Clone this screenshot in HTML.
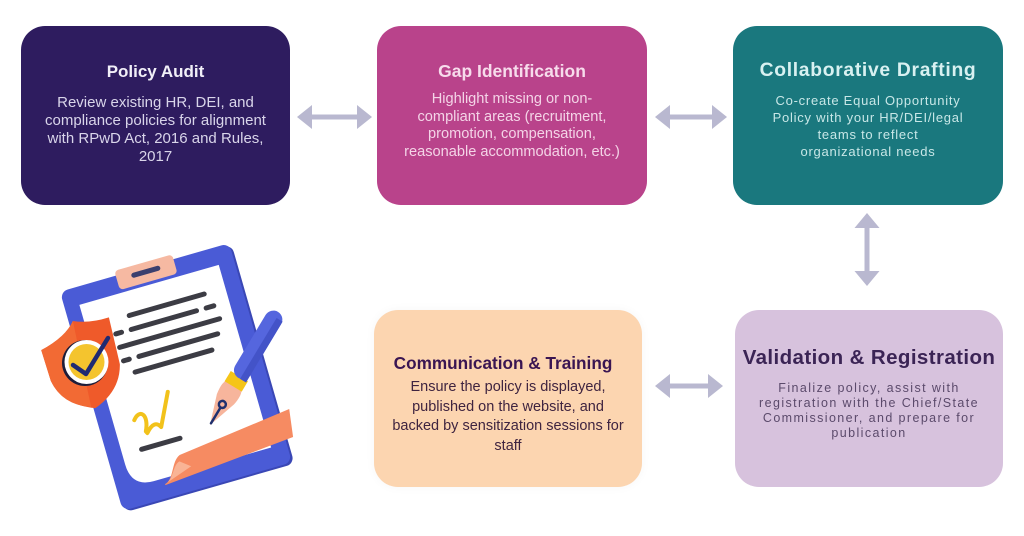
<!DOCTYPE html>
<html>
<head>
<meta charset="utf-8">
<style>
  html, body { margin:0; padding:0; }
  body { width:1024px; height:536px; overflow:hidden; background:#ffffff; position:relative;
         font-family:"Liberation Sans", Arial, sans-serif; }
  .box { position:absolute; border-radius:24px; }
  .t { position:absolute; left:0; right:0; text-align:center; white-space:nowrap; font-weight:bold; }
  .b { position:absolute; left:0; right:0; text-align:center; white-space:nowrap; }
  svg { position:absolute; left:0; top:0; }
</style>
</head>
<body>

<!-- Box 1 -->
<div class="box" style="left:21px;top:26px;width:269px;height:179px;background:#2e1c5f;">
  <div class="t" style="top:36px;line-height:20px;font-size:17px;color:#f1eff8;">Policy Audit</div>
  <div class="b" style="top:68px;line-height:18px;font-size:15px;color:#d9d5ea;">Review existing HR, DEI, and<br>compliance policies for alignment<br>with RPwD Act, 2016 and Rules,<br>2017</div>
</div>

<!-- Box 2 -->
<div class="box" style="left:377px;top:26px;width:270px;height:179px;background:#b9438b;">
  <div class="t" style="top:35px;line-height:20px;font-size:17.5px;color:#f7dcec;">Gap Identification</div>
  <div class="b" style="top:65px;line-height:17.6px;font-size:14.6px;color:#f4d4e7;">Highlight missing or non-<br>compliant areas (recruitment,<br>promotion, compensation,<br>reasonable accommodation, etc.)</div>
</div>

<!-- Box 3 -->
<div class="box" style="left:733px;top:26px;width:270px;height:179px;background:#1a787e;">
  <div class="t" style="top:34px;line-height:22px;font-size:19.3px;letter-spacing:0.7px;color:#d8f1f1;">Collaborative Drafting</div>
  <div class="b" style="top:65.5px;line-height:17px;font-size:13px;letter-spacing:0.75px;color:#c8e7e7;">Co-create Equal Opportunity<br>Policy with your HR/DEI/legal<br>teams to reflect<br>organizational needs</div>
</div>

<!-- Box 4 -->
<div class="box" style="left:374px;top:310px;width:268px;height:177px;background:#fcd5b0;box-shadow:0 0 10px rgba(0,0,0,0.04);">
  <div class="t" style="top:43px;line-height:20px;font-size:17.2px;color:#3a1552;left:-10px;">Communication &amp; Training</div>
  <div class="b" style="top:68px;line-height:19.7px;font-size:14.5px;color:#3f2440;">Ensure the policy is displayed,<br>published on the website, and<br>backed by sensitization sessions for<br>staff</div>
</div>

<!-- Box 5 -->
<div class="box" style="left:735px;top:310px;width:268px;height:177px;background:#d7c2dd;">
  <div class="t" style="top:36px;line-height:24px;font-size:20.5px;letter-spacing:0.4px;color:#3b2455;">Validation &amp; Registration</div>
  <div class="b" style="top:70.5px;line-height:15px;font-size:12.5px;letter-spacing:1.4px;color:#5b4a6b;">Finalize policy, assist with<br>registration with the Chief/State<br>Commissioner, and prepare for<br>publication</div>
</div>

<svg width="1024" height="536" viewBox="0 0 1024 536">
  <!-- Arrows -->
  <g fill="#b9b8d0">
    <polygon points="297,117 312,105 312,114.5 357,114.5 357,105 372,117 357,129 357,119.5 312,119.5 312,129"/>
    <polygon points="655,117 670,105 670,114.5 712,114.5 712,105 727,117 712,129 712,119.5 670,119.5 670,129"/>
    <polygon points="655,386 670,374 670,383.5 708,383.5 708,374 723,386 708,398 708,388.5 670,388.5 670,398"/>
    <polygon points="867,213 879.5,228 869.5,228 869.5,271 879.5,271 867,286 854.5,271 864.5,271 864.5,228 854.5,228"/>
  </g>

  <!-- Clipboard -->
  <g transform="translate(176,377) rotate(-16)">
    <rect x="-86" y="-112" width="176" height="228" rx="8" fill="#3a47b5"/>
    <rect x="-88" y="-114" width="176" height="228" rx="8" fill="#4a5bd6"/>
    <path d="M -73 -96 H 72 V 94 H -50 Q -73 94 -73 70 Z" fill="#ffffff"/>
    <rect x="-30" y="-119" width="60" height="20" rx="4" fill="#f6b9a2"/>
    <rect x="-15" y="-112" width="30" height="5" rx="2.5" fill="#3b3f6e"/>
    <g stroke="#3c3c44" stroke-width="5" stroke-linecap="round" fill="none">
      <line x1="-28" y1="-72" x2="50" y2="-72"/>
      <line x1="-46" y1="-58" x2="-40" y2="-58"/>
      <line x1="-30" y1="-58" x2="38" y2="-58"/>
      <line x1="48" y1="-58" x2="56" y2="-58"/>
      <line x1="-46" y1="-44" x2="58" y2="-44"/>
      <line x1="-46" y1="-30" x2="-40" y2="-30"/>
      <line x1="-30" y1="-30" x2="52" y2="-30"/>
      <line x1="-38" y1="-16" x2="42" y2="-16"/>
      <line x1="-53" y1="60" x2="-13" y2="60"/>
    </g>
    <path d="M -52 30 C -44 20, -36 28, -44 44 L -43 46 C -36 38, -31 38, -28 44 L -12 12" stroke="#f2c21b" stroke-width="4" fill="none" stroke-linecap="round" stroke-linejoin="round"/>
    <path d="M -40 100 C -30 98, -28 80, -18 76 L 100 62 L 96 90 L -40 101 Z" fill="#f68b62"/>
    <path d="M -40 100 C -30 98, -28 84, -20 82 L -10 90 Z" fill="#f9b495"/>
  </g>

  <!-- Shield -->
  <g transform="translate(82,364) rotate(-12)">
    <path d="M -37 -22 Q -10 -30 0 -44 Q 15 -38 36 -40 L 37 8 Q 32 34 4 46 Q -28 36 -34 10 Z" fill="#ef5a2a"/>
    <path d="M -37 -22 Q -10 -30 0 -44 L 0 44 Q -28 36 -34 10 Z" fill="#f26a34"/>
  </g>
  <circle cx="85" cy="363" r="23" fill="#1d1d3a"/>
  <circle cx="86.5" cy="362" r="22" fill="#ffffff"/>
  <circle cx="86.5" cy="362" r="18" fill="#f4c42e"/>
  <polyline points="73,365 86,374 108,338" fill="none" stroke="#1f2a72" stroke-width="4.5" stroke-linecap="round" stroke-linejoin="round"/>

  <!-- Pen -->
  <g transform="translate(210,425) rotate(31)">
    <path d="M 0 0 L -10 -30 Q -12 -42 -9 -46 L 9 -46 Q 12 -42 10 -30 Z" fill="#f7b59c"/>
    <circle cx="0" cy="-24" r="3.5" fill="none" stroke="#20306e" stroke-width="2.5"/>
    <line x1="0" y1="-20" x2="0" y2="-2" stroke="#20306e" stroke-width="2.5" stroke-linecap="round"/>
    <rect x="-10" y="-57" width="20" height="12" fill="#f5c518"/>
    <rect x="-9" y="-132" width="18" height="77" rx="9" fill="#5566de"/>
    <rect x="2" y="-126" width="7" height="71" fill="#4353c8"/>
  </g>
</svg>

</body>
</html>
